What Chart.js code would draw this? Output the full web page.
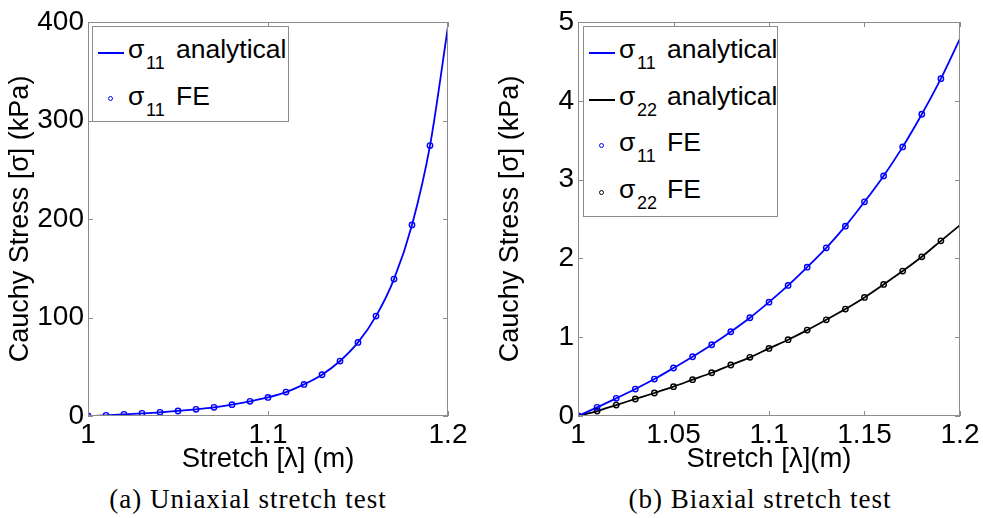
<!DOCTYPE html>
<html>
<head>
<meta charset="utf-8">
<script src="https://cdn.jsdelivr.net/npm/chart.js@4.4.1/dist/chart.umd.min.js"></script>
<style>
  body { margin: 0; background: #fff; width: 983px; height: 518px; overflow: hidden; position: relative; }
  .panel { position: absolute; top: 0; }
  .legend { position: absolute; background: #fff; border: 1px solid #8c8c8c; box-sizing: border-box; }
  .lg { position: absolute; font-family: "Liberation Sans", Arial, sans-serif; color: #000; white-space: nowrap; }
  .big { font-size: 26.5px; line-height: 26px; }
  .small { font-size: 18px; line-height: 18px; }
  .caption { position: absolute; top: 484px; font-family: "Liberation Serif", "DejaVu Serif", serif; font-size: 27px; letter-spacing: 1px; line-height: 30px; text-align: center; white-space: nowrap; }
</style>
</head>
<body>
<div class="panel" style="left:0;width:480px;height:476px"><canvas id="chartA" width="480" height="476"></canvas></div>
<div class="panel" style="left:490px;width:493px;height:476px"><canvas id="chartB" width="493" height="476"></canvas></div>
<div class="caption" style="left:98px;width:300px">(a) Uniaxial stretch test</div>
<div class="caption" style="left:610px;width:300px">(b) Biaxial stretch test</div>

<script>
// stretch values
const stretchLine = [1.00, 1.01, 1.02, 1.03, 1.04, 1.05, 1.06, 1.07, 1.08, 1.09, 1.10,
                     1.11, 1.12, 1.13, 1.14, 1.15, 1.16, 1.17, 1.18, 1.19, 1.20];
const stretchFE = [1.00, 1.01, 1.02, 1.03, 1.04, 1.05, 1.06, 1.07, 1.08, 1.09, 1.10,
                   1.11, 1.12, 1.13, 1.14, 1.15, 1.16, 1.17, 1.18, 1.19];

// (a) uniaxial, kPa
const uniS11Analytical = [0, 0.7, 1.7, 2.7, 3.7, 5.1, 6.8, 8.8, 11.5, 14.9, 18.9,
                          24.3, 32.1, 41.9, 55.8, 74.7, 101.4, 139, 194, 274.5, 395.6];
const uniS11FE = [0, 0.7, 1.7, 2.7, 3.7, 5.1, 6.8, 8.8, 11.5, 14.9, 18.9,
                  24.3, 32.1, 41.9, 55.8, 74.7, 101.4, 139, 194, 274.5];

// (b) biaxial, kPa
const biS11Analytical = [0, 0.11, 0.224, 0.342, 0.469, 0.609, 0.752, 0.904, 1.069, 1.247, 1.445,
                         1.657, 1.889, 2.134, 2.409, 2.718, 3.047, 3.415, 3.829, 4.281, 4.789];
const biS22Analytical = [0, 0.063, 0.139, 0.216, 0.292, 0.372, 0.461, 0.549, 0.647, 0.744, 0.858,
                         0.968, 1.09, 1.221, 1.357, 1.505, 1.67, 1.839, 2.02, 2.223, 2.422];
const biS11FE = [0, 0.11, 0.224, 0.342, 0.469, 0.609, 0.752, 0.904, 1.069, 1.247, 1.445,
                 1.657, 1.889, 2.134, 2.409, 2.718, 3.047, 3.415, 3.829, 4.281];
const biS22FE = [0, 0.063, 0.139, 0.216, 0.292, 0.372, 0.461, 0.549, 0.647, 0.744, 0.858,
                 0.968, 1.09, 1.221, 1.357, 1.505, 1.67, 1.839, 2.02, 2.223];

// ticks
const xTicksA = [1, 1.1, 1.2];
const yTicksA = [0, 100, 200, 300, 400];
const xTicksB = [1, 1.05, 1.1, 1.15, 1.2];
const yTicksB = [0, 1, 2, 3, 4, 5];

const BLUE = "#0000ff";
const BLACK = "#000000";
const AXIS = "#8c8c8c";
const FONT = "'Liberation Sans', Arial, sans-serif";

function pts(xs, ys) {
  return ys.map((y, i) => ({ x: xs[i], y: y }));
}

function lineSet(label, xs, ys, color) {
  return {
    label: label, data: pts(xs, ys), showLine: true, borderColor: color,
    borderWidth: 1.8, pointRadius: 0, cubicInterpolationMode: "monotone", order: 2
  };
}

function feSet(label, xs, ys, color) {
  return {
    label: label, data: pts(xs, ys), showLine: false, borderColor: color,
    backgroundColor: "rgba(0,0,0,0)", pointRadius: 2.7, pointBorderWidth: 1.4, order: 1
  };
}

// matlab style box with inward ticks on all sides
const boxPlugin = {
  id: "box",
  afterDraw(chart) {
    const { ctx, chartArea: a, scales } = chart;
    ctx.save();
    ctx.strokeStyle = AXIS;
    ctx.lineWidth = 1;
    ctx.strokeRect(a.left + 0.5, a.top + 0.5, a.right - a.left - 1, a.bottom - a.top - 1);
    const len = 5;
    ctx.beginPath();
    scales.x.ticks.forEach(t => {
      const px = Math.round(scales.x.getPixelForValue(t.value)) + 0.5;
      ctx.moveTo(px, a.bottom); ctx.lineTo(px, a.bottom - len);
      ctx.moveTo(px, a.top); ctx.lineTo(px, a.top + len);
    });
    scales.y.ticks.forEach(t => {
      const py = Math.round(scales.y.getPixelForValue(t.value)) + 0.5;
      ctx.moveTo(a.left, py); ctx.lineTo(a.left + len, py);
      ctx.moveTo(a.right, py); ctx.lineTo(a.right - len, py);
    });
    ctx.stroke();
    ctx.restore();
  }
};

function makeChart(id, datasets, xr, yr, xTicks, yTicks, xTitle, rightPad) {
  return new Chart(document.getElementById(id), {
    type: "scatter",
    data: { datasets: datasets },
    options: {
      responsive: false,
      animation: false,
      layout: { padding: { left: 0, top: 22, right: rightPad, bottom: 0 } },
      plugins: { legend: { display: false }, tooltip: { enabled: false } },
      scales: {
        x: {
          type: "linear", min: xr[0], max: xr[1],
          afterBuildTicks: s => { s.ticks = xTicks.map(v => ({ value: v })); },
          afterFit: s => { s.height = 60; },
          grid: { display: false, drawTicks: false }, border: { display: false },
          ticks: { color: "#000", padding: 2, font: { family: FONT, size: 28 },
                   callback: v => String(v) },
          title: { display: true, text: xTitle, color: "#000", padding: { top: 0, bottom: 0 },
                   font: { family: FONT, size: 27.5 } }
        },
        y: {
          type: "linear", min: yr[0], max: yr[1],
          afterBuildTicks: s => { s.ticks = yTicks.map(v => ({ value: v })); },
          afterFit: s => { s.width = 88; },
          grid: { display: false, drawTicks: false }, border: { display: false },
          ticks: { color: "#000", padding: 4, font: { family: FONT, size: 28 },
                   callback: v => String(v) },
          title: { display: true, text: "Cauchy Stress [σ] (kPa)", color: "#000",
                   padding: { top: 4, bottom: 0 }, font: { family: FONT, size: 27 } }
        }
      }
    },
    plugins: [boxPlugin]
  });
}

makeChart("chartA", [
  lineSet("σ11 analytical", stretchLine, uniS11Analytical, BLUE),
  feSet("σ11 FE", stretchFE, uniS11FE, BLUE)
], [1, 1.2], [0, 400], xTicksA, yTicksA, "Stretch [λ] (m)", 32);

makeChart("chartB", [
  lineSet("σ11 analytical", stretchLine, biS11Analytical, BLUE),
  lineSet("σ22 analytical", stretchLine, biS22Analytical, BLACK),
  feSet("σ11 FE", stretchFE, biS11FE, BLUE),
  feSet("σ22 FE", stretchFE, biS22FE, BLACK)
], [1, 1.2], [0, 5], xTicksB, yTicksB, "Stretch [λ](m)", 23);

// legends with subscripts as html text
function buildLegend(left, top, width, height, items) {
  const box = document.createElement("div");
  box.className = "legend";
  Object.assign(box.style, { left: left + "px", top: top + "px", width: width + "px", height: height + "px" });
  document.body.appendChild(box);
  items.forEach((it, i) => {
    const base = 31 + 46.7 * i;  // baseline inside box
    if (it.kind === "line") {
      const ln = document.createElement("div");
      Object.assign(ln.style, { position: "absolute", left: "5px", width: "26px", height: "2px",
        top: (base - 6) + "px", background: it.color });
      box.appendChild(ln);
    } else {
      const mk = document.createElement("div");
      Object.assign(mk.style, { position: "absolute", left: "15px", top: (base - 8.5) + "px",
        width: "3px", height: "3px", border: "1.5px solid " + it.color, borderRadius: "50%" });
      box.appendChild(mk);
    }
    const add = (txt, cls, x, b) => {
      const s = document.createElement("span");
      s.className = "lg " + cls;
      s.textContent = txt;
      s.style.left = x + "px";
      s.style.top = (b - (cls === "big" ? 22 : 15.2)) + "px";
      box.appendChild(s);
    };
    add("σ", "big", 35, base);
    add(it.sub, "small", 53, base + 11);
    add(it.text, "big", 83, base);
  });
}

buildLegend(92, 26, 197, 96, [
  { kind: "line", color: BLUE, sub: "11", text: "analytical" },
  { kind: "mark", color: BLUE, sub: "11", text: "FE" }
]);
buildLegend(583, 26, 195, 191, [
  { kind: "line", color: BLUE, sub: "11", text: "analytical" },
  { kind: "line", color: BLACK, sub: "22", text: "analytical" },
  { kind: "mark", color: BLUE, sub: "11", text: "FE" },
  { kind: "mark", color: BLACK, sub: "22", text: "FE" }
]);
</script>
</body>
</html>
